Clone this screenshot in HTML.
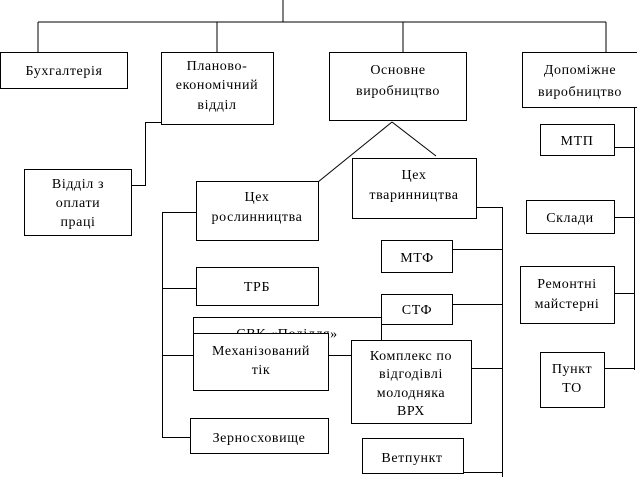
<!DOCTYPE html>
<html><head><meta charset="utf-8"><style>
html,body{margin:0;padding:0;background:#fff;}
svg{display:block;}
text{font-family:"Liberation Serif","DejaVu Serif",serif;font-size:14px;letter-spacing:0.6px;fill:#000;text-anchor:middle;}
</style></head><body>
<svg width="637" height="477" viewBox="0 0 637 477" xmlns="http://www.w3.org/2000/svg">
<g stroke="#000" stroke-width="1" fill="none" shape-rendering="crispEdges">
<line x1="283" y1="0" x2="283" y2="22"/>
<line x1="38" y1="22" x2="606" y2="22"/>
<line x1="38" y1="22" x2="38" y2="52"/>
<line x1="217" y1="22" x2="217" y2="52"/>
<line x1="403" y1="22" x2="403" y2="52"/>
<line x1="606" y1="22" x2="606" y2="52"/>
<rect x="0.5" y="52.5" width="127" height="36"/>
<rect x="161.5" y="52.5" width="112" height="72"/>
<rect x="329.5" y="52.5" width="137" height="68"/>
<rect x="522.5" y="52.5" width="115" height="55"/>
<rect x="24.5" y="169.5" width="107" height="66"/>
<rect x="196.5" y="181.5" width="122" height="59"/>
<rect x="352.5" y="158.5" width="124" height="60"/>
<rect x="540.5" y="124.5" width="74" height="31"/>
<rect x="526.5" y="200.5" width="88" height="33"/>
<rect x="520.5" y="266.5" width="94" height="57"/>
<rect x="540.5" y="352.5" width="64" height="55"/>
<rect x="196.5" y="267.5" width="122" height="38"/>
<rect x="381.5" y="240.5" width="71" height="32"/>
<rect x="381.5" y="294.5" width="71" height="30"/>
<polyline points="193.5,340 193.5,317.5 381.5,317.5"/>
<line x1="381.5" y1="324" x2="381.5" y2="340"/>
<polyline points="161,122.5 145.5,122.5 145.5,185.5 131,185.5"/>
</g>
<g stroke="#000" stroke-width="1">
<line x1="392" y1="122" x2="318" y2="182"/>
<line x1="392" y1="122" x2="436" y2="156"/>
</g>
<g stroke="#000" stroke-width="1" fill="none" shape-rendering="crispEdges">
<line x1="162.5" y1="212" x2="162.5" y2="437"/>
<line x1="162" y1="212.5" x2="196" y2="212.5"/>
<line x1="162" y1="288.5" x2="196" y2="288.5"/>
<line x1="162" y1="355.5" x2="193" y2="355.5"/>
<line x1="162" y1="437.5" x2="190" y2="437.5"/>
<polyline points="476,207.5 502.5,207.5 502.5,477"/>
<line x1="452" y1="249.5" x2="502" y2="249.5"/>
<line x1="452" y1="304.5" x2="502" y2="304.5"/>
<line x1="471" y1="368.5" x2="502" y2="368.5"/>
<line x1="463" y1="472.5" x2="502" y2="472.5"/>
<line x1="634.5" y1="107" x2="634.5" y2="370"/>
<line x1="614" y1="147.5" x2="634" y2="147.5"/>
<line x1="614" y1="217.5" x2="634" y2="217.5"/>
<line x1="614" y1="293.5" x2="634" y2="293.5"/>
<line x1="604" y1="368.5" x2="634" y2="368.5"/>
<line x1="328" y1="355.5" x2="351" y2="355.5"/>
</g>
<text x="287" y="338">СВК «Поділля»</text>
<g stroke="#000" stroke-width="1" fill="#fff" shape-rendering="crispEdges">
<rect x="193.5" y="333.5" width="135" height="57"/>
<rect x="351.5" y="340.5" width="120" height="83"/>
<rect x="190.5" y="418.5" width="138" height="35"/>
<rect x="362.5" y="438.5" width="101" height="35"/>
</g>
<text x="64" y="75">Бухгалтерія</text>
<text x="217" y="70">Планово-</text>
<text x="217" y="89">економічний</text>
<text x="217" y="109">відділ</text>
<text x="398" y="74">Основне</text>
<text x="398" y="95">виробництво</text>
<text x="580" y="74">Допоміжне</text>
<text x="580" y="96">виробництво</text>
<text x="78" y="188">Відділ з</text>
<text x="78" y="207">оплати</text>
<text x="78" y="226">праці</text>
<text x="257" y="201">Цех</text>
<text x="257" y="221">рослинництва</text>
<text x="414" y="179">Цех</text>
<text x="414" y="199">тваринництва</text>
<text x="577" y="145">МТП</text>
<text x="570" y="222">Склади</text>
<text x="567" y="288">Ремонтні</text>
<text x="567" y="308">майстерні</text>
<text x="572" y="373">Пункт</text>
<text x="572" y="392">ТО</text>
<text x="257" y="291">ТРБ</text>
<text x="417" y="262">МТФ</text>
<text x="417" y="314">СТФ</text>
<text x="261" y="355">Механізований</text>
<text x="261" y="374">тік</text>
<text x="411" y="360">Комплекс по</text>
<text x="411" y="378">відгодівлі</text>
<text x="411" y="397">молодняка</text>
<text x="411" y="415">ВРХ</text>
<text x="259" y="442">Зерносховище</text>
<text x="412" y="462">Ветпункт</text>
</svg>
</body></html>
